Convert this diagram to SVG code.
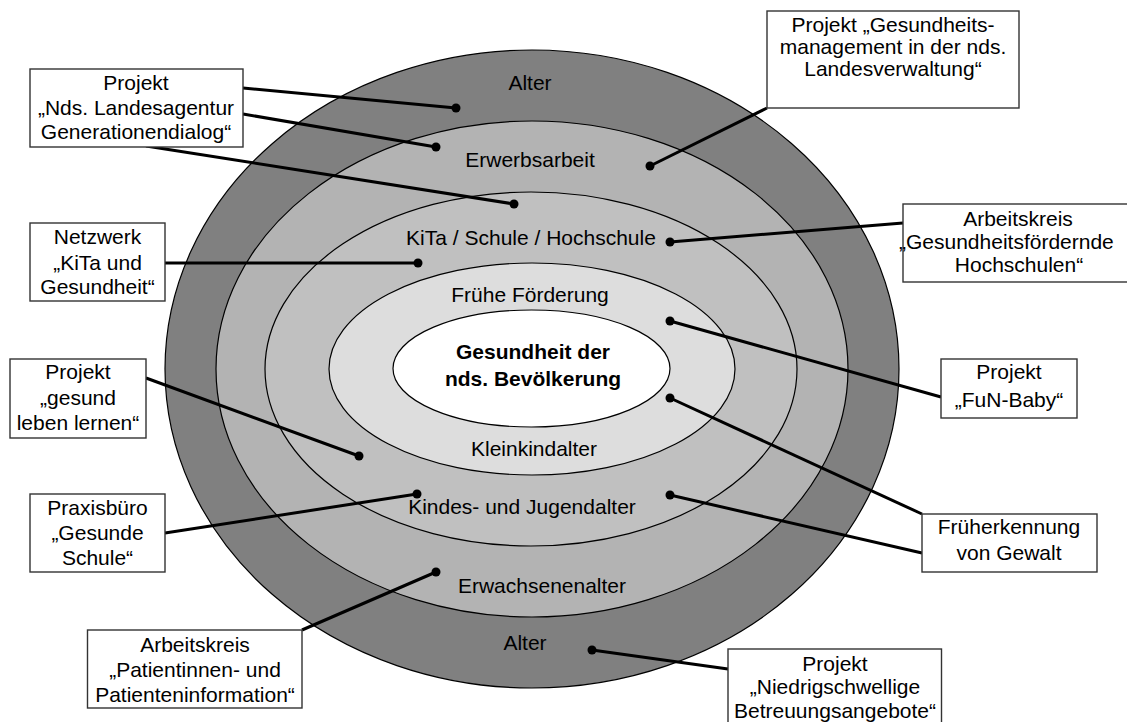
<svg xmlns="http://www.w3.org/2000/svg" width="1127" height="722" viewBox="0 0 1127 722">
<style>
text{font-family:"Liberation Sans",Arial,sans-serif;font-size:21px;fill:#000;text-anchor:middle}
.b{font-weight:bold}
.ring{stroke:#000;stroke-width:1.2}
.box{fill:#fff;stroke:#333;stroke-width:1.4}
.con{stroke:#000;stroke-width:3;fill:none}
.dot{fill:#000}
</style>
<rect width="1127" height="722" fill="#fff"/>
<g id="rings">
<ellipse class="ring" cx="532" cy="369" rx="367" ry="319" fill="#808080"/>
<ellipse class="ring" cx="532" cy="369" rx="316" ry="248" fill="#b3b3b3"/>
<ellipse class="ring" cx="531" cy="369" rx="266" ry="177" fill="#c0c0c0"/>
<ellipse class="ring" cx="532" cy="369" rx="203" ry="106" fill="#dddddd"/>
<ellipse class="ring" cx="531.5" cy="368.5" rx="138.5" ry="58.5" fill="#ffffff"/>
</g>
<g id="ring-labels">
<text x="530" y="90">Alter</text>
<text x="530" y="167">Erwerbsarbeit</text>
<text x="531" y="245">KiTa / Schule / Hochschule</text>
<text x="530" y="302">Frühe Förderung</text>
<text class="b" x="533" y="359">Gesundheit der</text>
<text class="b" x="533" y="386">nds. Bevölkerung</text>
<text x="534" y="456">Kleinkindalter</text>
<text x="522" y="514">Kindes- und Jugendalter</text>
<text x="542" y="593">Erwachsenenalter</text>
<text x="525" y="650">Alter</text>
</g>
<g id="connectors">
<line class="con" x1="243" y1="88" x2="456" y2="108"/>
<line class="con" x1="243" y1="114" x2="436" y2="147"/>
<line class="con" x1="146" y1="146" x2="514" y2="204"/>
<line class="con" x1="767" y1="108" x2="650" y2="166"/>
<line class="con" x1="903" y1="223" x2="670" y2="242"/>
<line class="con" x1="165" y1="263" x2="418" y2="263"/>
<line class="con" x1="146" y1="378" x2="359" y2="456"/>
<line class="con" x1="941" y1="397" x2="670" y2="321"/>
<line class="con" x1="922" y1="514" x2="670" y2="398"/>
<line class="con" x1="922" y1="553" x2="670" y2="495"/>
<line class="con" x1="165" y1="533" x2="417" y2="494"/>
<line class="con" x1="302" y1="630" x2="436" y2="572"/>
<line class="con" x1="728" y1="669" x2="592" y2="650"/>
<circle class="dot" cx="456" cy="108" r="4.5"/>
<circle class="dot" cx="436" cy="147" r="4.5"/>
<circle class="dot" cx="514" cy="204" r="4.5"/>
<circle class="dot" cx="650" cy="166" r="4.5"/>
<circle class="dot" cx="670" cy="242" r="4.5"/>
<circle class="dot" cx="418" cy="263" r="4.5"/>
<circle class="dot" cx="359" cy="456" r="4.5"/>
<circle class="dot" cx="670" cy="321" r="4.5"/>
<circle class="dot" cx="670" cy="398" r="4.5"/>
<circle class="dot" cx="670" cy="495" r="4.5"/>
<circle class="dot" cx="417" cy="494" r="4.5"/>
<circle class="dot" cx="436" cy="572" r="4.5"/>
<circle class="dot" cx="592" cy="650" r="4.5"/>
</g>
<g id="box-generationendialog">
<rect class="box" x="30" y="69" width="213" height="78"/>
<text x="136" y="90">Projekt</text>
<text x="136" y="115">„Nds. Landesagentur</text>
<text x="136" y="139">Generationendialog“</text>
</g>
<g id="box-landesverwaltung">
<rect class="box" x="767" y="11" width="252" height="97"/>
<text x="893" y="32">Projekt „Gesundheits-</text>
<text x="893" y="54">management in der nds.</text>
<text x="893" y="76">Landesverwaltung“</text>
</g>
<g id="box-hochschulen">
<rect class="box" x="903" y="204" width="237" height="78"/>
<text x="1018" y="226">Arbeitskreis</text>
<text x="899" y="249" style="text-anchor:start">„Gesundheitsfördernde</text>
<text x="1019" y="272">Hochschulen“</text>
</g>
<g id="box-kita">
<rect class="box" x="30" y="223" width="135" height="78"/>
<text x="97.5" y="244">Netzwerk</text>
<text x="97.5" y="270">„KiTa und</text>
<text x="97.5" y="294">Gesundheit“</text>
</g>
<g id="box-gesund-leben">
<rect class="box" x="10" y="359" width="136" height="79"/>
<text x="78" y="379">Projekt</text>
<text x="78" y="405">„gesund</text>
<text x="78" y="430">leben lernen“</text>
</g>
<g id="box-fun-baby">
<rect class="box" x="941" y="359" width="136" height="59"/>
<text x="1009" y="379">Projekt</text>
<text x="1009" y="407">„FuN-Baby“</text>
</g>
<g id="box-frueherkennung">
<rect class="box" x="922" y="514" width="175" height="58"/>
<text x="1009" y="534">Früherkennung</text>
<text x="1009" y="560">von Gewalt</text>
</g>
<g id="box-praxisbuero">
<rect class="box" x="30" y="494" width="135" height="78"/>
<text x="97.5" y="515">Praxisbüro</text>
<text x="97.5" y="540">„Gesunde</text>
<text x="97.5" y="565">Schule“</text>
</g>
<g id="box-patienteninformation">
<rect class="box" x="87.5" y="630" width="214.5" height="78"/>
<text x="195" y="652">Arbeitskreis</text>
<text x="195" y="677">„Patientinnen- und</text>
<text x="195" y="702">Patienteninformation“</text>
</g>
<g id="box-betreuungsangebote">
<rect class="box" x="728" y="649" width="213.5" height="80"/>
<text x="835" y="671">Projekt</text>
<text x="835" y="694">„Niedrigschwellige</text>
<text x="835" y="718">Betreuungsangebote“</text>
</g>
</svg>
